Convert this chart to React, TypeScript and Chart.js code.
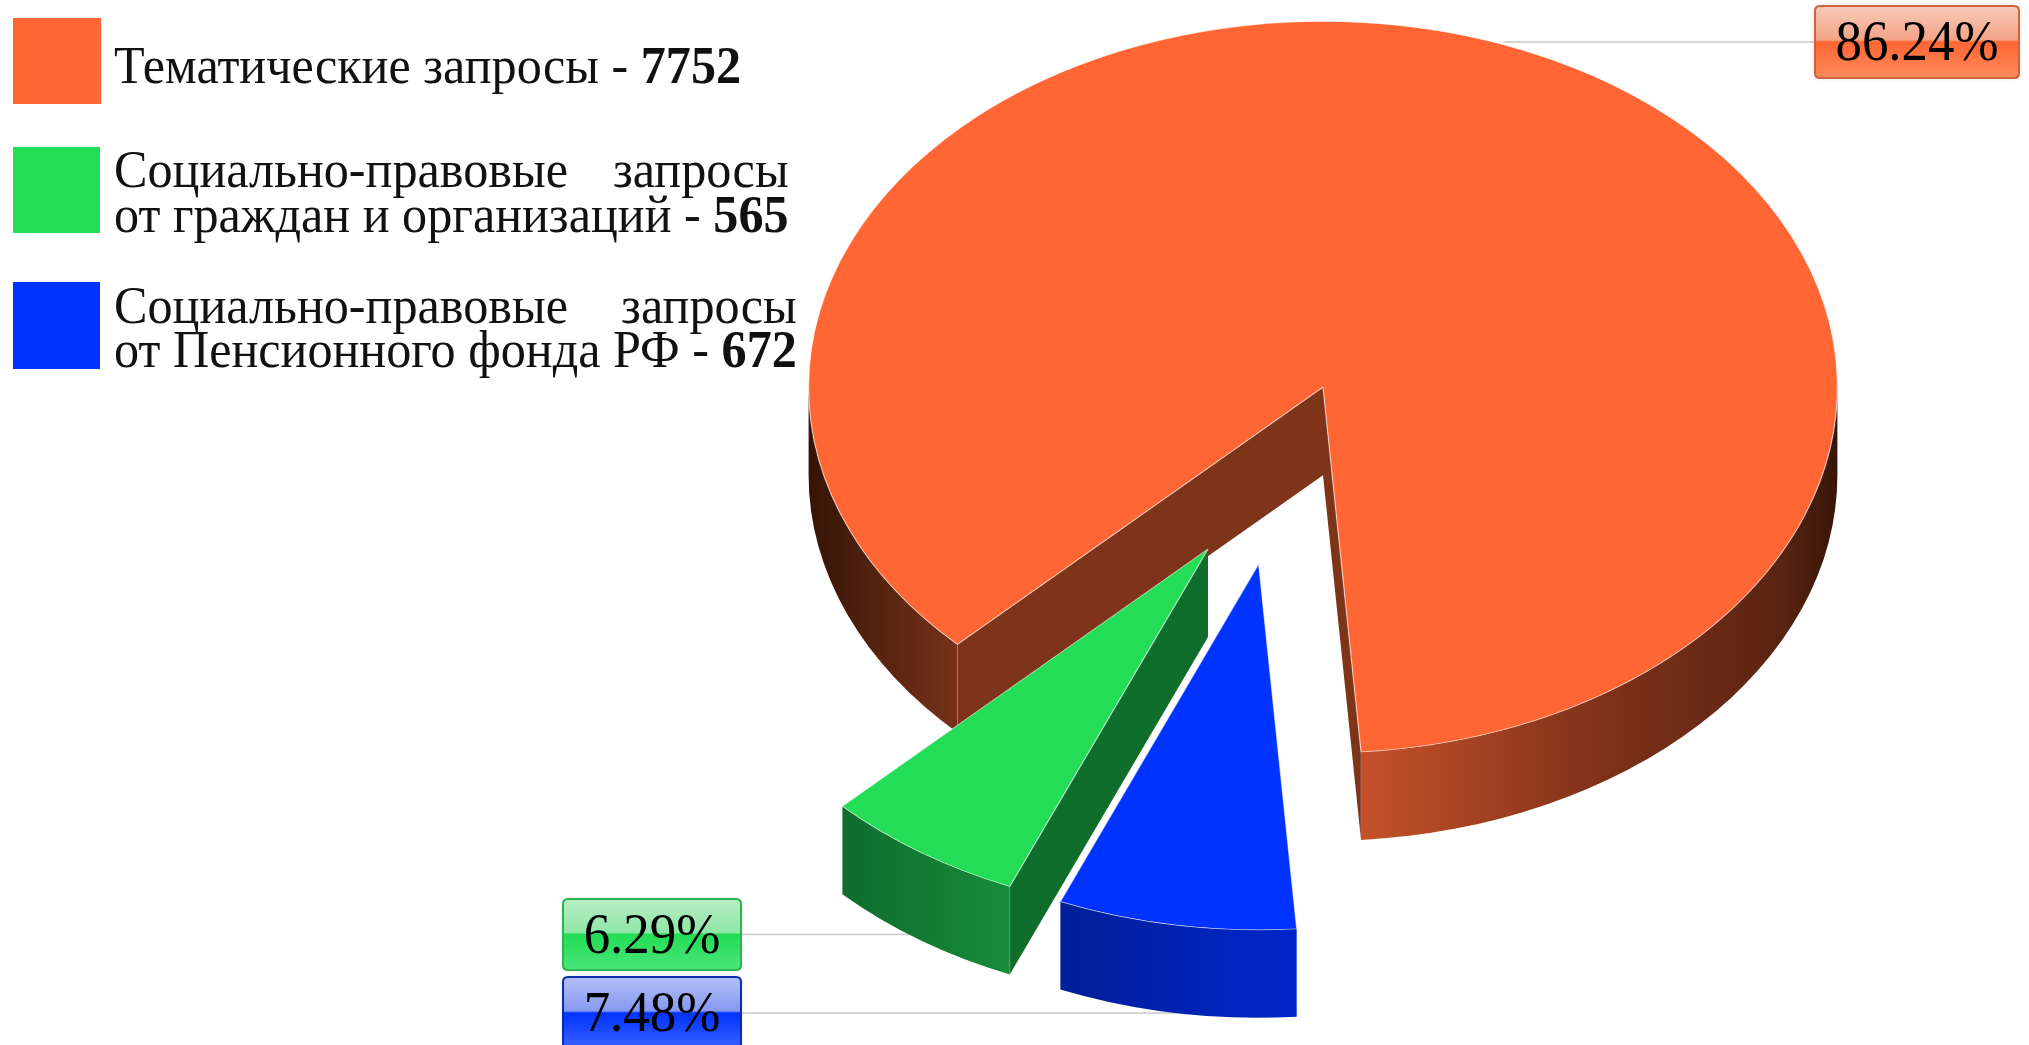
import React, { useEffect, useRef } from 'react';
import { Chart, registerables } from 'chart.js';

Chart.register(...registerables);

// ---- data (in drawing order, clockwise) ----
const categories = [
  'Тематические запросы',
  'Социально-правовые запросы от Пенсионного фонда РФ',
  'Социально-правовые запросы от граждан и организаций',
];
const values = [7752, 672, 565];
const topColors = ['#FF6633', '#0033FF', '#22DD55'];

// legend (reading order) : index into categories, and its text lines
const legendOrder = [0, 2, 1];
const legendFirstLines = ['', 'Социально-правовые запросы', 'Социально-правовые запросы'];
const legendSecondLines = ['Тематические запросы - ', 'от Пенсионного фонда РФ - ', 'от граждан и организаций - '];

// ---- styling ----
const ROTATION = 225.3;
const TILT = 0.711;
const DEPTH = 88;
const EXPLODE_DIST = [0, 257, 255];
const EXPLODE_DIR = [0, 104.5, 116.8];
const FACE_COLORS = ['#7E3419', '#001C88', '#0F6E2C'];
const WALL_STOPS: [number, string][][] = [
  [[0, '#341406'], [0.05, '#4e1f0d'], [0.145, '#773219'], [0.54, '#c45129'], [0.77, '#7f3219'], [0.945, '#5a2412'], [1, '#381508']],
  [[0, '#00167e'], [0.31, '#001f98'], [0.541, '#0026cc'], [1, '#001a94']],
  [[0, '#0a5824'], [0.146, '#0f6c2e'], [0.309, '#178c3a'], [1, '#0c6028']],
];
const LABEL_BOX = [
  { x: 1815, y: 6, w: 204, h: 72 },
  { x: 563, y: 977, w: 178, h: 72 },
  { x: 563, y: 899, w: 178, h: 71 },
];
const LABEL_ANCHOR = [0.5, 0, 0.5];
const LABEL_FILL: string[][] = [
  ['#F7CBBA', '#F3A385', '#FF6633', '#FF8A5C'],
  ['#B2BFF5', '#8799F2', '#0033FF', '#3A62FF'],
  ['#B6EEC4', '#90E6A7', '#22DD55', '#4BE67A'],
];
const LABEL_BORDER = ['#D0623C', '#0A2DB0', '#2BB552'];
const SERIF = '"Liberation Serif", "Times New Roman", serif';

function rr(ctx: CanvasRenderingContext2D, x: number, y: number, w: number, h: number, r: number) {
  ctx.beginPath();
  ctx.moveTo(x + r, y);
  ctx.lineTo(x + w - r, y);
  ctx.quadraticCurveTo(x + w, y, x + w, y + r);
  ctx.lineTo(x + w, y + h - r);
  ctx.quadraticCurveTo(x + w, y + h, x + w - r, y + h);
  ctx.lineTo(x + r, y + h);
  ctx.quadraticCurveTo(x, y + h, x, y + h - r);
  ctx.lineTo(x, y + r);
  ctx.quadraticCurveTo(x, y, x + r, y);
  ctx.closePath();
}

const pie3d = {
  id: 'pie3d',
  afterDatasetsUpdate(chart: any) {
    const meta = chart.getDatasetMeta(0);
    meta.data.forEach((arc: any, i: number) => {
      const d = EXPLODE_DIST[i];
      if (!d) return;
      const a = (EXPLODE_DIR[i] * Math.PI) / 180;
      arc.x += Math.cos(a) * d;
      arc.y += Math.sin(a) * d;
    });
  },
  beforeDatasetsDraw(chart: any) {
    const ctx: CanvasRenderingContext2D = chart.ctx;
    const T = chart.chartArea.top;
    const arcs = chart.getDatasetMeta(0).data;
    const scr = (arc: any) => ({ sx: arc.x, sy: T + TILT * (arc.y - T), R: arc.outerRadius, ry: arc.outerRadius * TILT });

    // leader lines (behind the pie)
    ctx.save();
    ctx.strokeStyle = '#C9C9C9';
    ctx.lineWidth = 1.5;
    arcs.forEach((arc: any, i: number) => {
      const { sx, R } = scr(arc);
      const a = arc.startAngle + (arc.endAngle - arc.startAngle) * LABEL_ANCHOR[i];
      const tx = sx + R * Math.cos(a);
      const b = LABEL_BOX[i];
      const ly = b.y + b.h / 2;
      const bx = b.x > tx ? b.x : b.x + b.w;
      ctx.beginPath();
      ctx.moveTo(bx, ly);
      ctx.lineTo(tx, ly);
      ctx.stroke();
    });
    ctx.restore();

    // side walls
    arcs.forEach((arc: any, i: number) => {
      const { sx, sy, R, ry } = scr(arc);
      const a1 = arc.startAngle;
      const a2 = arc.endAngle;
      const pt = (a: number, dz: number) => [sx + R * Math.cos(a), sy + ry * Math.sin(a) + dz];
      ctx.save();
      // radial cut faces
      const face = (a: number) => {
        const p = pt(a, 0);
        ctx.beginPath();
        ctx.moveTo(sx, sy);
        ctx.lineTo(p[0], p[1]);
        ctx.lineTo(p[0], p[1] + DEPTH);
        ctx.lineTo(sx, sy + DEPTH);
        ctx.closePath();
        ctx.fillStyle = FACE_COLORS[i];
        ctx.fill();
        ctx.strokeStyle = 'rgba(255,255,255,0.3)';
        ctx.lineWidth = 1;
        ctx.beginPath();
        ctx.moveTo(p[0], p[1]);
        ctx.lineTo(p[0], p[1] + DEPTH);
        ctx.stroke();
      };
      if (Math.cos(a1) < 0) face(a1);
      if (Math.cos(a2) > 0) face(a2);
      // outer curved wall (front half only)
      const g = ctx.createLinearGradient(sx - R, 0, sx + R, 0);
      WALL_STOPS[i].forEach(([o, c]) => g.addColorStop(o, c));
      for (let n = -2; n <= 2; n++) {
        const f1 = n * 2 * Math.PI;
        const f2 = f1 + Math.PI;
        const b1 = Math.max(a1, f1);
        const b2 = Math.min(a2, f2);
        if (b2 - b1 <= 1e-4) continue;
        ctx.beginPath();
        ctx.ellipse(sx, sy, R, ry, 0, b1, b2, false);
        const e = pt(b2, DEPTH);
        ctx.lineTo(e[0], e[1]);
        ctx.ellipse(sx, sy + DEPTH, R, ry, 0, b2, b1, true);
        ctx.closePath();
        ctx.fillStyle = g;
        ctx.fill();
      }
      ctx.restore();
    });

    // squash the pie tops into an ellipse
    ctx.save();
    ctx.translate(0, T);
    ctx.scale(1, TILT);
    ctx.translate(0, -T);
  },
  afterDatasetsDraw(chart: any) {
    const ctx: CanvasRenderingContext2D = chart.ctx;
    ctx.restore();
    const total = values.reduce((s, v) => s + v, 0);
    values.forEach((v, i) => {
      const b = LABEL_BOX[i];
      ctx.save();
      const g = ctx.createLinearGradient(0, b.y, 0, b.y + b.h);
      const f = LABEL_FILL[i];
      g.addColorStop(0, f[0]);
      g.addColorStop(0.47, f[1]);
      g.addColorStop(0.5, f[2]);
      g.addColorStop(1, f[3]);
      ctx.shadowColor = 'rgba(0,0,0,0.18)';
      ctx.shadowBlur = 4;
      rr(ctx, b.x, b.y, b.w, b.h, 5);
      ctx.fillStyle = g;
      ctx.fill();
      ctx.shadowColor = 'transparent';
      ctx.lineWidth = 2;
      ctx.strokeStyle = LABEL_BORDER[i];
      ctx.stroke();
      ctx.fillStyle = '#000';
      ctx.font = `56px ${SERIF}`;
      ctx.textAlign = 'center';
      ctx.textBaseline = 'alphabetic';
      ctx.translate(b.x + b.w / 2, b.y + b.h / 2 + 18);
      ctx.scale(0.945, 1);
      ctx.fillText(((v / total) * 100).toFixed(2) + '%', 0, 0);
      ctx.restore();
    });
  },
};

const LEGEND_POS = [
  { sq: { x: 13, y: 18, w: 88, h: 86 }, top: 44.2 },
  { sq: { x: 13, y: 147, w: 87, h: 86 }, top: 148.2 },
  { sq: { x: 13, y: 282, w: 87, h: 87 }, top: 283.7 },
];

export default function App() {
  const ref = useRef<HTMLCanvasElement>(null);
  useEffect(() => {
    const chart = new Chart(ref.current as HTMLCanvasElement, {
      type: 'pie',
      data: {
        labels: categories,
        datasets: [
          {
            data: values,
            backgroundColor: topColors,
            borderColor: 'rgba(255,255,255,0.6)',
            borderWidth: 1.2,
            hoverBorderWidth: 1.2,
            hoverOffset: 0,
            clip: false,
          } as any,
        ],
      },
      options: {
        responsive: false,
        animation: false,
        events: [],
        devicePixelRatio: 1,
        rotation: ROTATION,
        layout: { padding: { left: 808, right: 191, top: 21, bottom: 0 } },
        plugins: { legend: { display: false }, tooltip: { enabled: false } },
      } as any,
      plugins: [pie3d as any],
    });
    return () => chart.destroy();
  }, []);

  return (
    <div style={{ position: 'absolute', left: 0, top: 0, width: 2029, height: 1045, overflow: 'hidden', background: '#fff' }}>
      <canvas ref={ref} width={2029} height={1051} style={{ position: 'absolute', left: 0, top: 0, width: 2029, height: 1051 }} />
      {legendOrder.map((ci, k) => {
        const p = LEGEND_POS[k];
        return (
          <React.Fragment key={ci}>
            <div style={{ position: 'absolute', left: p.sq.x, top: p.sq.y, width: p.sq.w, height: p.sq.h, background: topColors[ci] }} />
            <div
              style={{
                position: 'absolute',
                left: 114,
                top: p.top,
                display: 'inline-block',
                fontFamily: SERIF,
                fontSize: 52,
                lineHeight: '44.5px',
                color: '#111',
                transform: 'scaleX(0.965)',
                transformOrigin: '0 0',
              }}
            >
              {legendFirstLines[ci] ? (
                <div style={{ textAlign: 'justify', textAlignLast: 'justify', whiteSpace: 'normal' } as any}>{legendFirstLines[ci]}</div>
              ) : null}
              <div style={{ whiteSpace: 'nowrap' }}>
                {legendSecondLines[ci]}
                <b>{values[ci]}</b>
              </div>
            </div>
          </React.Fragment>
        );
      })}
    </div>
  );
}
